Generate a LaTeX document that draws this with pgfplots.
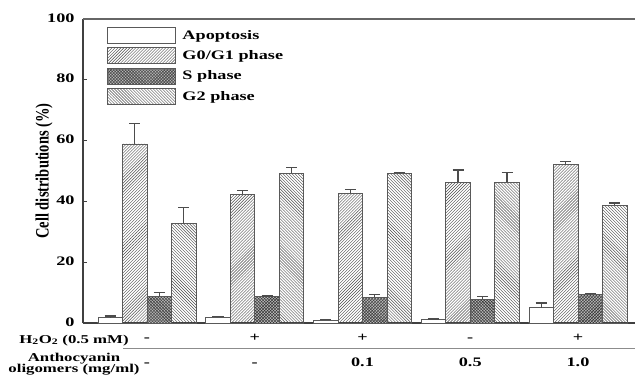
\documentclass[border=0pt]{standalone}
\usepackage{fontspec}
\setmainfont{Liberation Serif}[FakeStretch=1.4]
\newfontfamily\ylabfont{Liberation Serif}
\usepackage{graphicx}
\usepackage{pgfplots}
\pgfplotsset{compat=1.18}
\usepackage{pgfplotstable}
\usetikzlibrary{patterns}

\pgfplotstableread{
x y e
0 1.8 0.5
1 1.9 0.3
2 1.0 0.2
3 1.1 0.2
4 5.0 1.6
}\apop
\pgfplotstableread{
x y e
0 58.9 6.8
1 42.4 1.3
2 42.7 1.3
3 46.3 4.0
4 52.1 1.1
}\gzero
\pgfplotstableread{
x y e
0 8.7 1.4
1 8.6 0.3
2 8.4 1.1
3 7.8 0.9
4 9.4 0.3
}\sph
\pgfplotstableread{
x y e
0 32.6 5.3
1 49.2 2.0
2 49.1 0.3
3 46.3 3.1
4 38.7 0.8
}\gtwo

\begin{document}
\begin{tikzpicture}
\begin{axis}[
  width=552bp, height=304bp, scale only axis,
  xmin=-0.594, xmax=4.529, ymin=0, ymax=100,
  enlargelimits=false,
  axis x line*=bottom, axis y line*=left,
  axis line style={line width=1.3bp, black!75},
  ytick={0,20,40,60,80,100},
  xtick={0,1,2,3,4},
  xticklabels={-,+,+,-,+},
  extra x ticks={0,1,2,3,4},
  extra x tick labels={-,-,0.1,0.5,1.0},
  extra x tick style={tick label style={yshift=-25bp}, major tick length=0pt},
  xtick style={draw=none},
  ytick style={line width=1bp, black!75},
  tick align=inside, major tick length=4bp,
  typeset ticklabels with strut,
  tick label style={font=\bfseries\fontsize{13bp}{15.6bp}\selectfont},
  /pgf/number format/assume math mode=true,
  xticklabel style={yshift=-4bp},
  yticklabel style={xshift=-5bp},
  ylabel={\ylabfont\bfseries\fontsize{14.5bp}{16bp}\selectfont\scalebox{1}[1.3]{Cell distributions (\%)}},
  ylabel style={at={(axis description cs:-0.0707,0.5)}, anchor=center},
  legend style={at={(axis description cs:0,1)}, anchor=north west, xshift=24bp, yshift=-8bp,
    draw=none, fill=none, inner sep=0pt, row sep=3.5bp, column sep=6bp,
    font=\bfseries\fontsize{13bp}{15bp}\selectfont, nodes={inner sep=0.5bp}},
  legend cell align=left,
  legend image code/.code={\draw[#1] (0bp,-8bp) rectangle (68bp,8bp);},
  eb/.style={error bars/.cd, y dir=plus, y explicit,
    error bar style={line width=1.2bp, black!70},
    error mark options={rotate=90, mark size=5.5bp, line width=1.2bp, black!70}},
  clip=false,
]
\addplot[ybar, bar width=0.2274, bar shift=0pt, fill=white, draw=black!65, line width=0.8bp, eb]
  table[x expr=\thisrow{x}-0.3411, y=y, y error=e]{\apop};
\addplot[ybar, bar width=0.2274, bar shift=0pt, pattern=north east lines, pattern color=black!70, draw=black!65, line width=0.8bp, eb]
  table[x expr=\thisrow{x}-0.1137, y=y, y error=e]{\gzero};
\addplot[ybar, bar width=0.2274, bar shift=0pt, fill=gray!55, postaction={pattern=crosshatch, pattern color=black!80}, draw=black!65, line width=0.8bp, eb]
  table[x expr=\thisrow{x}+0.1137, y=y, y error=e]{\sph};
\addplot[ybar, bar width=0.2274, bar shift=0pt, pattern=north west lines, pattern color=black!70, draw=black!65, line width=0.8bp, eb]
  table[x expr=\thisrow{x}+0.3411, y=y, y error=e]{\gtwo};
\legend{Apoptosis, G0/G1 phase, S phase, G2 phase}
\coordinate (SW) at (rel axis cs:0,0);
\coordinate (SE) at (rel axis cs:1,0);
\coordinate (NW) at (rel axis cs:0,1);
\coordinate (NE) at (rel axis cs:1,1);
\end{axis}
\draw[black!60, line width=1.5bp] (NW) -- (NE);
\draw[black!45, line width=1bp] ([xshift=40bp,yshift=-25bp]SW) -- ([yshift=-25bp]SE);
\node[anchor=base, font=\bfseries\fontsize{12bp}{14bp}\selectfont] at ([xshift=-9bp,yshift=-20bp]SW) {H\textsubscript{2}O\textsubscript{2} (0.5 mM)};
\node[anchor=base, font=\bfseries\fontsize{12bp}{14bp}\selectfont] at ([xshift=-9bp,yshift=-38bp]SW) {Anthocyanin};
\node[anchor=base, font=\bfseries\fontsize{12bp}{14bp}\selectfont] at ([xshift=-9bp,yshift=-49bp]SW) {oligomers (mg/ml)};
\pgfresetboundingbox
\useasboundingbox ([xshift=-83bp,yshift=-52bp]SW) rectangle ([yshift=19bp]NE);
\end{tikzpicture}
\end{document}
